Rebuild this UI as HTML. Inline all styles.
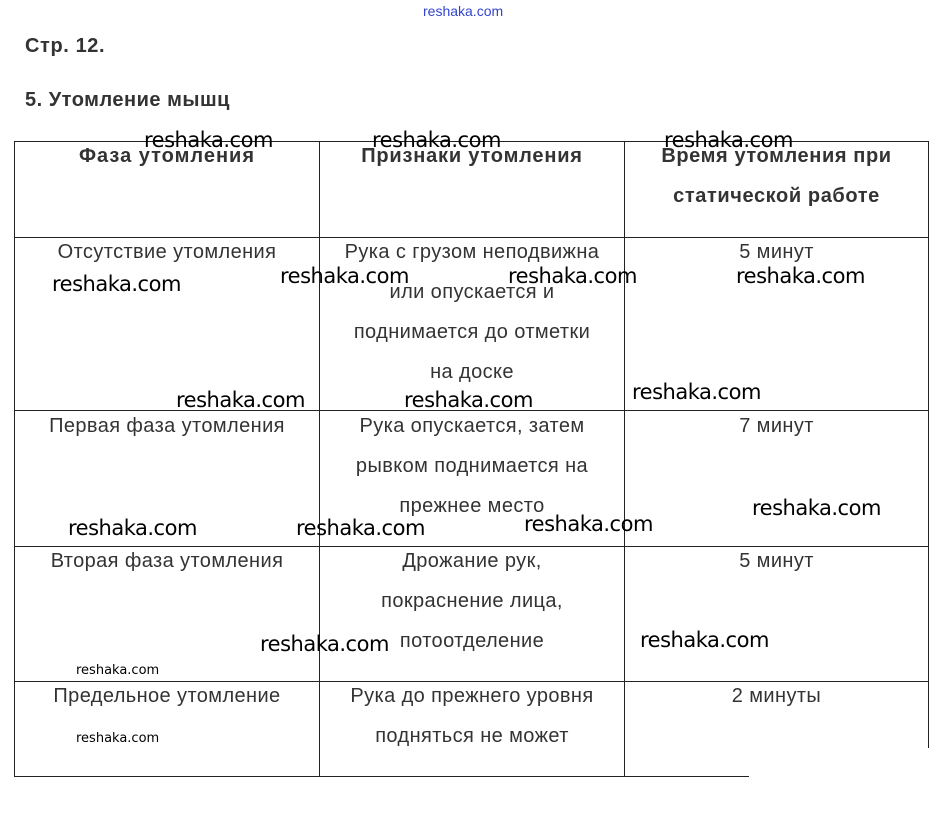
<!DOCTYPE html>
<html><head><meta charset="utf-8"><style>
body{margin:0;width:940px;height:826px;background:#fff;position:relative;overflow:hidden;font-family:"Liberation Sans",Arial,sans-serif;color:#222}
.a{position:absolute;white-space:nowrap}
.l{position:absolute;background:#222}
.c{position:absolute;text-align:center;font-size:20px;letter-spacing:0.4px;line-height:40px;color:#333;white-space:nowrap}
.h{font-weight:bold;color:#333}
.w{position:absolute;font-family:"DejaVu Sans",sans-serif;font-size:21px;color:#000;white-space:nowrap;letter-spacing:-0.5px}
.s{position:absolute;font-family:"DejaVu Sans",sans-serif;font-size:13px;color:#000}
</style></head><body>
<div class="a" style="left:423px;top:3px;font-size:14px;color:#3344cc">reshaka.com</div>
<div class="a h" style="left:25px;top:35px;font-size:20px;letter-spacing:0.6px">Стр. 12.</div>
<div class="a h" style="left:25px;top:89px;font-size:20px;letter-spacing:0.5px">5. Утомление мышц</div>
<div class="l" style="left:14px;top:141px;width:915px;height:1px"></div>
<div class="l" style="left:14px;top:237px;width:915px;height:1px"></div>
<div class="l" style="left:14px;top:410px;width:915px;height:1px"></div>
<div class="l" style="left:14px;top:546px;width:915px;height:1px"></div>
<div class="l" style="left:14px;top:681px;width:915px;height:1px"></div>
<div class="l" style="left:14px;top:776px;width:735px;height:1px"></div>
<div class="l" style="left:14px;top:141px;width:1px;height:636px"></div>
<div class="l" style="left:319px;top:141px;width:1px;height:636px"></div>
<div class="l" style="left:624px;top:141px;width:1px;height:636px"></div>
<div class="l" style="left:928px;top:141px;width:1px;height:607px"></div>
<div class="c h" style="left:15px;top:136px;width:304px;letter-spacing:1px">Фаза утомления</div>
<div class="c h" style="left:320px;top:136px;width:304px;letter-spacing:0.8px">Признаки утомления</div>
<div class="c h" style="left:625px;top:136px;width:303px;letter-spacing:0.6px">Время утомления при<br>статической работе</div>
<div class="c" style="left:15px;top:232px;width:304px">Отсутствие утомления</div>
<div class="c" style="left:320px;top:232px;width:304px">Рука с грузом неподвижна<br>или опускается и<br>поднимается до отметки<br>на доске</div>
<div class="c" style="left:625px;top:232px;width:303px">5 минут</div>
<div class="c" style="left:15px;top:406px;width:304px">Первая фаза утомления</div>
<div class="c" style="left:320px;top:406px;width:304px">Рука опускается, затем<br>рывком поднимается на<br>прежнее место</div>
<div class="c" style="left:625px;top:406px;width:303px">7 минут</div>
<div class="c" style="left:15px;top:541px;width:304px">Вторая фаза утомления</div>
<div class="c" style="left:320px;top:541px;width:304px">Дрожание рук,<br>покраснение лица,<br>потоотделение</div>
<div class="c" style="left:625px;top:541px;width:303px">5 минут</div>
<div class="c" style="left:15px;top:676px;width:304px">Предельное утомление</div>
<div class="c" style="left:320px;top:676px;width:304px">Рука до прежнего уровня<br>подняться не может</div>
<div class="c" style="left:625px;top:676px;width:303px">2 минуты</div>
<div class="w" style="left:144px;top:128px">reshaka.com</div>
<div class="w" style="left:372px;top:128px">reshaka.com</div>
<div class="w" style="left:664px;top:128px">reshaka.com</div>
<div class="w" style="left:52px;top:272px">reshaka.com</div>
<div class="w" style="left:280px;top:264px">reshaka.com</div>
<div class="w" style="left:508px;top:264px">reshaka.com</div>
<div class="w" style="left:736px;top:264px">reshaka.com</div>
<div class="w" style="left:176px;top:388px">reshaka.com</div>
<div class="w" style="left:404px;top:388px">reshaka.com</div>
<div class="w" style="left:632px;top:380px">reshaka.com</div>
<div class="w" style="left:68px;top:516px">reshaka.com</div>
<div class="w" style="left:296px;top:516px">reshaka.com</div>
<div class="w" style="left:524px;top:512px">reshaka.com</div>
<div class="w" style="left:752px;top:496px">reshaka.com</div>
<div class="w" style="left:260px;top:632px">reshaka.com</div>
<div class="w" style="left:640px;top:628px">reshaka.com</div>
<div class="s" style="left:76px;top:663px">reshaka.com</div>
<div class="s" style="left:76px;top:731px">reshaka.com</div>
</body></html>
